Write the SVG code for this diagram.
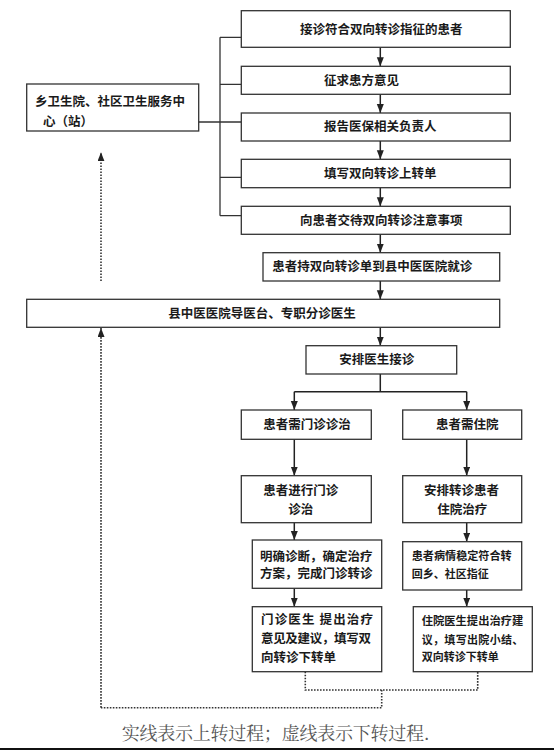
<svg xmlns="http://www.w3.org/2000/svg" width="554" height="750" viewBox="0 0 554 750">
<defs>
<style>
.box{fill:#fff;stroke:#333;stroke-width:1.3}
.t{font-family:"Noto Sans CJK SC","Noto Sans CJK TC",sans-serif;font-size:12.5px;font-weight:bold;fill:#1a1a1a}
.ts{font-family:"Noto Sans CJK SC",sans-serif;font-size:11px;font-weight:bold;fill:#1a1a1a}
.ln{fill:none;stroke:#333;stroke-width:1.3}
.ar{fill:none;stroke:#222;stroke-width:1.5;marker-end:url(#ah)}
.dt{fill:none;stroke:#333;stroke-width:1.6;stroke-dasharray:1.6 1.4}
.dta{fill:none;stroke:#333;stroke-width:1.6;stroke-dasharray:1.6 1.4;marker-end:url(#ah)}
.cap{font-family:"Noto Serif CJK SC","Liberation Serif","Noto Sans CJK SC",serif;font-size:18px;fill:#555}
</style>
<marker id="ah" markerUnits="userSpaceOnUse" markerWidth="9" markerHeight="8" refX="9" refY="3.5" orient="auto">
<path d="M0,0 L9,3.5 L0,7 z" fill="#222"/>
</marker>
</defs>
<rect width="554" height="750" fill="#fff"/>

<g id="connectors">
<path class="ln" d="M220,37.3 V215.7 M220,37.3 H241.3 M220,84.3 H241.3 M198.7,122 H241.3 M220,177.3 H241.3 M220,215.7 H241.3"/>
<path class="ar" d="M380.3,47.3 V66.3"/>
<path class="ar" d="M380.3,94.3 V113"/>
<path class="ar" d="M380.3,141 V159.3"/>
<path class="ar" d="M380.3,187.7 V206.3"/>
<path class="ar" d="M380.3,234.3 V252.7"/>
<path class="ar" d="M380.3,281 V299.3"/>
<path class="ar" d="M380.3,327.3 V345.7"/>
<path class="ln" d="M380.3,374 V391.7 M294.3,391.7 H466.7" style="stroke-width:1.5;stroke:#222"/>
<path class="ar" d="M294.3,391.7 V410"/>
<path class="ar" d="M466.7,391.7 V410"/>
<path class="ar" d="M294.3,439.3 V475.7"/>
<path class="ar" d="M466.7,439.3 V475.7"/>
<path class="ar" d="M294.3,522.7 V540"/>
<path class="ar" d="M466.7,522.7 V541.7"/>
<path class="ar" d="M294.3,588.3 V606.7"/>
<path class="ar" d="M466.7,590 V606.7"/>
<path class="dt" d="M305.3,671.7 V690 H477.7 V671.7 M381.7,690 V707.7 H101"/>
<path class="dta" d="M101,707.7 V328"/>
<path class="dta" d="M101,281 V152.3"/>
</g>

<g id="n_left">
<rect class="box" x="26.7" y="84" width="172" height="47"/>
<text class="t" x="35" y="106.2">乡卫生院、社区卫生服务中</text>
<text class="t" x="43" y="125.5">心（站）</text>
</g>
<g id="n1">
<rect class="box" x="241.3" y="10.7" width="269" height="36.6"/>
<text class="t" x="300" y="33.5">接诊符合双向转诊指征的患者</text>
</g>
<g id="n2">
<rect class="box" x="241.3" y="66.3" width="269" height="28"/>
<text class="t" x="324" y="84.7">征求患方意见</text>
</g>
<g id="n3">
<rect class="box" x="241.3" y="113" width="269" height="28"/>
<text class="t" x="324" y="131.4">报告医保相关负责人</text>
</g>
<g id="n4">
<rect class="box" x="241.3" y="159.3" width="269" height="28.4"/>
<text class="t" x="324" y="177.9">填写双向转诊上转单</text>
</g>
<g id="n5">
<rect class="box" x="241.3" y="206.3" width="269" height="28"/>
<text class="t" x="300" y="224.7">向患者交待双向转诊注意事项</text>
</g>
<g id="n6">
<rect class="box" x="263" y="252.7" width="236.7" height="28.3"/>
<text class="t" x="272.3" y="271.3">患者持双向转诊单到县中医医院就诊</text>
</g>
<g id="n7">
<rect class="box" x="26.7" y="299.3" width="473" height="28"/>
<text class="t" x="168.3" y="317.7">县中医医院导医台、专职分诊医生</text>
</g>
<g id="n8">
<rect class="box" x="306" y="345.7" width="150.7" height="28.3"/>
<text class="t" x="339.3" y="364.3">安排医生接诊</text>
</g>
<g id="n9">
<rect class="box" x="241.3" y="410" width="130" height="29.3"/>
<text class="t" x="263.3" y="429">患者需门诊诊治</text>
</g>
<g id="n10">
<rect class="box" x="402.7" y="410" width="119" height="29.3"/>
<text class="t" x="436" y="429">患者需住院</text>
</g>
<g id="n11">
<rect class="box" x="241.3" y="475.7" width="130" height="47"/>
<text class="t" x="263.3" y="495.4">患者进行门诊</text>
<text class="t" x="288.3" y="514.4">诊治</text>
</g>
<g id="n12">
<rect class="box" x="402.7" y="475.7" width="119" height="47"/>
<text class="t" x="424" y="495.4">安排转诊患者</text>
<text class="t" x="437.3" y="514.4">住院治疗</text>
</g>
<g id="n13">
<rect class="box" x="252.3" y="540" width="129.4" height="48.3"/>
<text class="t" x="260" y="561">明确诊断，确定治疗</text>
<text class="t" x="260" y="578.4">方案，完成门诊转诊</text>
</g>
<g id="n14">
<rect class="box" x="402.7" y="541.7" width="119" height="48.3"/>
<text class="ts" x="411.7" y="560" textLength="100" lengthAdjust="spacingAndGlyphs">患者病情稳定符合转</text>
<text class="ts" x="411.7" y="578.3">回乡、社区指征</text>
</g>
<g id="n15">
<rect class="box" x="252.3" y="606.7" width="129.4" height="65"/>
<text class="t" x="261" y="624.4" textLength="112">门诊医生 提出治疗</text>
<text class="t" x="261" y="643.4" textLength="110">意见及建议，填写双</text>
<text class="t" x="261" y="661.7">向转诊下转单</text>
</g>
<g id="n16">
<rect class="box" x="413.3" y="606.7" width="119" height="65"/>
<text class="ts" x="421.7" y="625" textLength="101.6" lengthAdjust="spacingAndGlyphs">住院医生提出治疗建</text>
<text class="ts" x="421.7" y="644" textLength="101.6">议，填写出院小结、</text>
<text class="ts" x="421.7" y="661.3">双向转诊下转单</text>
</g>

<text class="cap" x="121.7" y="739.5" textLength="308">实线表示上转过程；虚线表示下转过程.</text>
<rect x="0" y="748" width="554" height="2" fill="#111"/>
</svg>
